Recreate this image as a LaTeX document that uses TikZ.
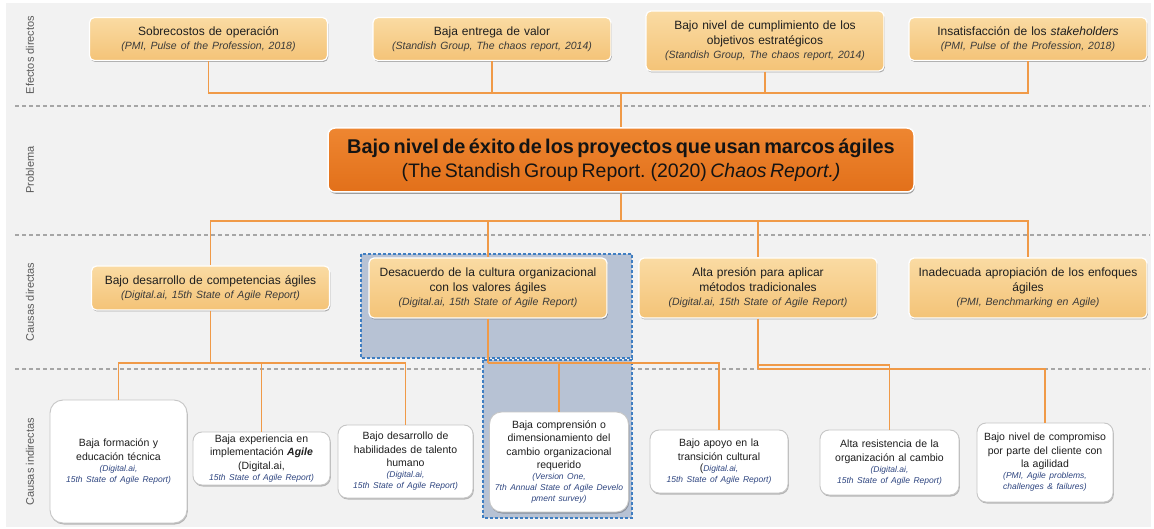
\documentclass[tikz,border=0pt]{standalone}
\usepackage{fontspec}
\setmainfont{Liberation Sans}
\usetikzlibrary{shadows}
\definecolor{bgc}{HTML}{F2F2F2}
\definecolor{sepc}{HTML}{A6A6A6}
\definecolor{connc}{HTML}{F09A48}
\definecolor{boxtop}{HTML}{FADBA3}
\definecolor{boxbot}{HTML}{F4C377}
\definecolor{probtop}{HTML}{EE8631}
\definecolor{probbot}{HTML}{E2701A}
\definecolor{bluefill}{HTML}{B7C2D4}
\definecolor{blueline}{HTML}{3F7EC2}
\definecolor{cittxt}{HTML}{3A3A3A}
\definecolor{citblue}{HTML}{2E4580}
\definecolor{lblc}{HTML}{595959}
\definecolor{txtc}{HTML}{1E1E1E}
\definecolor{indline}{HTML}{C6C6C6}
\newcommand\ctop[1]{{\fontsize{10.5}{14.5}\selectfont\itshape\color{cittxt}#1}}
\newcommand\cind[1]{\par{\fontsize{8.5}{11}\selectfont\itshape\color{citblue}#1\par}}
\tikzset{
  effbox/.style={rounded corners=5pt, top color=boxtop, bottom color=boxbot, draw=white, line width=1.2pt,
    drop shadow={shadow xshift=0.8pt, shadow yshift=-1.5pt, opacity=0.3, fill=black},
    align=center, text width=228pt, minimum width=238pt, inner sep=3pt,
    font=\fontsize{12}{14.5}\selectfont, text=txtc},
  probbox/.style={rounded corners=7pt, top color=probtop, bottom color=probbot, draw=white, line width=1.5pt,
    drop shadow={shadow xshift=0.8pt, shadow yshift=-1.8pt, opacity=0.35, fill=black},
    align=center, text width=578pt, minimum width=586pt, minimum height=64pt, inner sep=3pt, text=black!92},
  indbox/.style={rounded corners=9pt, fill=white, draw=indline, line width=0.9pt,
    drop shadow={shadow xshift=0.8pt, shadow yshift=-1.5pt, opacity=0.25, fill=black},
    align=center, text width=130pt, inner sep=2.5pt,
    font=\fontsize{10.5}{13.5}\selectfont, text=txtc},
  conn/.style={draw=connc, line width=1.3pt},
  sepline/.style={draw=sepc, line width=1.1pt, dash pattern=on 4pt off 3pt},
  bluebox/.style={fill=bluefill, draw=blueline, line width=1.1pt, dash pattern=on 3pt off 2pt},
  rowlbl/.style={rotate=90, font=\fontsize{11}{13}\selectfont, text=lblc},
}
\begin{document}
\begin{tikzpicture}[x=1pt,y=1pt]
\useasboundingbox (0,0) rectangle (1154,-529);
\fill[white] (0,0) rectangle (1154,-529);
\fill[bgc] (6,-3) rectangle (1151,-527);
% separators
\draw[sepline] (15,-106) -- (1150,-106);
\draw[sepline] (15,-235) -- (1150,-235);
\draw[sepline] (15,-369) -- (1150,-369);
% highlighted areas
\draw[bluebox] (361,-254) rectangle (632,-358);
\draw[bluebox] (483,-360) rectangle (632,-518);
% row labels
\node[rowlbl] (L1) at (30,-55) {Efectos directos};
\node[rowlbl] (L2) at (30,-170) {Problema};
\node[rowlbl] (L3) at (30,-302) {Causas directas};
\node[rowlbl] (L4) at (30,-462) {Causas indirectas};
% effects
\node[effbox, minimum height=43pt] (E1) at (208.5,-39) {Sobrecostos de operación\\\ctop{(PMI, Pulse of the Profession, 2018)}};
\node[effbox, minimum height=43pt] (E2) at (492,-39) {Baja entrega de valor\\\ctop{(Standish Group, The chaos report, 2014)}};
\node[effbox, minimum height=60pt] (E3) at (765,-41) {Bajo nivel de cumplimiento de los\\objetivos estratégicos\\\ctop{(Standish Group, The chaos report, 2014)}};
\node[effbox, minimum height=43pt] (E4) at (1028,-39) {Insatisfacción de los \textit{stakeholders}\\\ctop{(PMI, Pulse of the Profession, 2018)}};
% problem
\node[probbox] (P) at (621,-160) {{\fontsize{19.9}{24}\selectfont\bfseries Bajo nivel de éxito de los proyectos que usan marcos ágiles\par}{\fontsize{19.5}{24}\selectfont (The Standish Group Report. (2020) \textit{Chaos Report.)}\par}};
% direct causes
\node[effbox, minimum height=44pt] (D1) at (210.5,-288) {Bajo desarrollo de competencias ágiles\\\ctop{(Digital.ai, 15th State of Agile Report)}};
\node[effbox, minimum height=60pt] (D2) at (488,-288) {Desacuerdo de la cultura organizacional\\con los valores ágiles\\\ctop{(Digital.ai, 15th State of Agile Report)}};
\node[effbox, minimum height=60pt] (D3) at (758,-288) {Alta presión para aplicar\\métodos tradicionales\\\ctop{(Digital.ai, 15th State of Agile Report)}};
\node[effbox, minimum height=60pt] (D4) at (1028,-288) {Inadecuada apropiación de los enfoques\\ágiles\\\ctop{(PMI, Benchmarking en Agile)}};
% indirect causes
\node[indbox, minimum width=137pt, minimum height=123pt, rounded corners=13pt] (I1) at (118.5,-461.5) {Baja formación y\\educación técnica\cind{(Digital.ai,\\15th State of Agile Report)}};
\node[indbox, minimum width=137pt, minimum height=53pt] (I2) at (261.5,-458.5) {Baja experiencia en\\implementación \textbf{\textit{Agile}}\\(Digital.ai,\cind{15th State of Agile Report)}};
\node[indbox, minimum width=135pt, minimum height=73pt] (I3) at (405.5,-461.5) {Bajo desarrollo de\\habilidades de talento\\humano\cind{(Digital.ai,\\15th State of Agile Report)}};
\node[indbox, minimum width=138pt, minimum height=100pt, rounded corners=12pt, text width=134pt] (I4) at (559,-462) {Baja comprensión o\\dimensionamiento del\\cambio organizacional\\requerido\cind{(Version One,\\7th~Annual~State~of~Agile~Develo\\pment survey)}};
\node[indbox, minimum width=138pt, minimum height=63pt] (I5) at (719,-461.5) {Bajo apoyo en la\\transición cultural\cind{{\fontsize{10.5}{11}\selectfont\upshape\color{txtc}(}Digital.ai,\\15th State of Agile Report)}};
\node[indbox, minimum width=139pt, minimum height=65pt] (I6) at (889.5,-462.5) {Alta resistencia de la\\organización al cambio\cind{(Digital.ai,\\15th State of Agile Report)}};
\node[indbox, minimum width=136pt, minimum height=79pt] (I7) at (1045,-462.5) {Bajo nivel de compromiso\\por parte del cliente con\\la agilidad\cind{(PMI, Agile problems,\\challenges \& failures)}};
% connectors: effects -> problem
\coordinate (tj) at (621,-93);
\draw[conn] (E1.south) |- (tj);
\draw[conn] (E2.south) |- (tj);
\draw[conn] (E3.south) |- (tj);
\draw[conn] (E4.south) |- (tj);
\draw[conn] (tj) -- (P.north);
% problem -> direct causes
\coordinate (bj) at (621,-221);
\draw[conn] (P.south) -- (bj);
\draw[conn] (bj) -| (D1.north);
\draw[conn] (bj) -| (D2.north);
\draw[conn] (bj) -| (D3.north);
\draw[conn] (bj) -| (D4.north);
% direct -> indirect
\coordinate (ja) at (210.5,-363);
\draw[conn] (D1.south) -- (ja);
\draw[conn] (ja) -| (I1.north);
\draw[conn] (ja) -| (I2.north);
\draw[conn] (ja) -| (I3.north);
\coordinate (jb) at (488,-363);
\draw[conn] (D2.south) -- (jb);
\draw[conn] (jb) -| (I4.north);
\draw[conn] (jb) -| (I5.north);
\coordinate (jc) at (758,-365);
\coordinate (jd) at (758,-369);
\draw[conn] (D3.south) -- (jd);
\draw[conn] (jc) -| (I6.north);
\draw[conn] (jd) -| (I7.north);
\end{tikzpicture}
\end{document}
